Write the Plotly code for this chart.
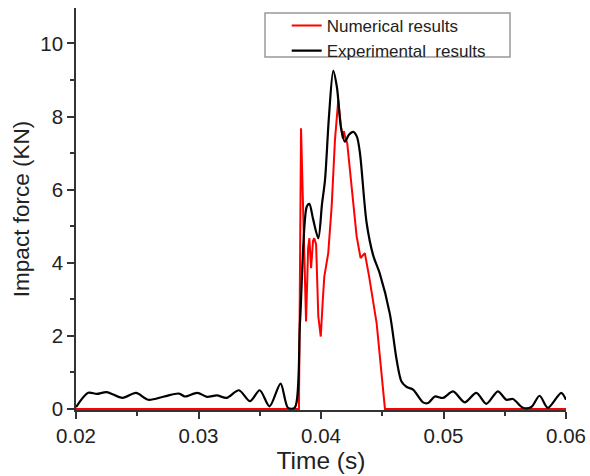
import plotly.graph_objects as go

# Experimental results (black)
exp_time = [0.0200, 0.0210, 0.0217, 0.0225, 0.0238, 0.0249, 0.0259, 0.0272, 0.0284, 0.0289,
            0.0299, 0.0307, 0.0315, 0.0323, 0.0333, 0.0342, 0.0350, 0.0358, 0.0367, 0.0373,
            0.03785, 0.03829, 0.03884, 0.03905, 0.03935, 0.03978, 0.04008, 0.04033, 0.04065,
            0.04100, 0.04130, 0.04163, 0.04195, 0.04228, 0.04263, 0.04293, 0.04318, 0.04372,
            0.04426, 0.04480, 0.04562, 0.04617, 0.04657, 0.04700, 0.04752, 0.04833, 0.04874,
            0.04929, 0.04996, 0.05078, 0.05173, 0.05268, 0.05350, 0.05444, 0.05513, 0.05567,
            0.05648, 0.05717, 0.05784, 0.05852, 0.05961, 0.0600]
exp_force = [0.05, 0.44, 0.41, 0.46, 0.30, 0.44, 0.25, 0.34, 0.42, 0.34,
             0.44, 0.33, 0.37, 0.30, 0.51, 0.21, 0.51, 0.07, 0.69, 0.03,
             0.03, 2.4, 5.54, 5.61, 5.2, 4.67, 5.6, 6.27, 8.0,
             9.25, 8.8, 7.7, 7.31, 7.5, 7.58, 7.45, 7.0, 5.1,
             4.2, 3.7, 2.6, 1.35, 0.75, 0.6, 0.53, 0.18, 0.16,
             0.34, 0.30, 0.48, 0.18, 0.44, 0.14, 0.48, 0.25, 0.27,
             0.03, 0.05, 0.36, 0.03, 0.44, 0.25]

# Numerical results (red)
num_time = [0.0200, 0.0382, 0.03837, 0.0386, 0.03878, 0.03895, 0.03905, 0.03919, 0.03935,
            0.03945, 0.0396, 0.03978, 0.03998, 0.04015, 0.04027, 0.04059, 0.04087, 0.04114,
            0.04141, 0.04163, 0.04177, 0.04187, 0.04196, 0.04214, 0.04291, 0.04323, 0.04358,
            0.04393, 0.04454, 0.04522, 0.0600]
num_force = [0, 0, 7.68, 4.3, 2.39, 4.4, 4.67, 3.85, 4.6,
             4.67, 4.5, 2.53, 1.98, 3.0, 3.62, 4.26, 5.54, 7.36,
             8.45, 7.72, 7.40, 7.6, 7.45, 7.27, 4.72, 4.13, 4.26,
             3.62, 2.35, 0, 0]

x_ticks = [0.02, 0.03, 0.04, 0.05, 0.06]
x_tick_labels = ["0.02", "0.03", "0.04", "0.05", "0.06"]
y_ticks = [0, 2, 4, 6, 8, 10]

FONT = "Arial, Liberation Sans, sans-serif"

fig = go.Figure()
fig.add_trace(go.Scatter(x=num_time, y=num_force, mode="lines", name="Numerical results",
                         line=dict(color="#ff0000", width=2)))
fig.add_trace(go.Scatter(x=exp_time, y=exp_force, mode="lines", name="Experimental\u00a0 results",
                         line=dict(color="#000000", width=2.2, shape="spline", smoothing=0.8)))

fig.update_layout(
    width=590, height=476,
    margin=dict(l=76, r=24, t=8, b=66, autoexpand=False),
    paper_bgcolor="white", plot_bgcolor="white",
    font=dict(family=FONT, color="#222222"),
    showlegend=True,
    legend=dict(x=0.43, y=1.0, xanchor="left", yanchor="top",
                bgcolor="rgba(0,0,0,0)", borderwidth=0,
                font=dict(size=17, family=FONT, color="#222222"),
                tracegroupgap=0),
    shapes=[dict(type="rect", xref="paper", yref="paper",
                 x0=(265 - 76) / 490, x1=(510 - 76) / 490,
                 y0=(410 - 57) / 402, y1=(410 - 13) / 402,
                 line=dict(color="#999999", width=1.5), fillcolor="rgba(0,0,0,0)")],
)

fig.update_xaxes(
    range=[0.02, 0.06], tickvals=x_ticks, ticktext=x_tick_labels, automargin=False,
    showgrid=False, zeroline=False, showline=True, linecolor="#333333", linewidth=1.5,
    ticks="outside", ticklen=7, tickwidth=1.5, tickcolor="#333333",
    tickfont=dict(size=20.5, family=FONT, color="#222222"),
    minor=dict(ticks="outside", ticklen=4, tickwidth=1.5, tickcolor="#333333", dtick=0.005, tick0=0.02),
    title=dict(text="Time (s)", font=dict(size=24.5, family=FONT, color="#222222"), standoff=2),
    layer="below traces",
)
fig.update_yaxes(
    range=[-0.03, 10.97], tickvals=y_ticks, automargin=False,
    showgrid=False, zeroline=False, showline=True, linecolor="#333333", linewidth=1.5,
    ticks="outside", ticklen=7, tickwidth=1.5, tickcolor="#333333",
    tickfont=dict(size=20.5, family=FONT, color="#222222"),
    minor=dict(ticks="outside", ticklen=4, tickwidth=1.5, tickcolor="#333333", dtick=1, tick0=0),
    title=dict(text="Impact force (KN)", font=dict(size=22.5, family=FONT, color="#222222"), standoff=4),
    layer="below traces",
)

fig.write_html("out.html", config={"displayModeBar": False},
               post_script="document.body.style.margin='0';")
